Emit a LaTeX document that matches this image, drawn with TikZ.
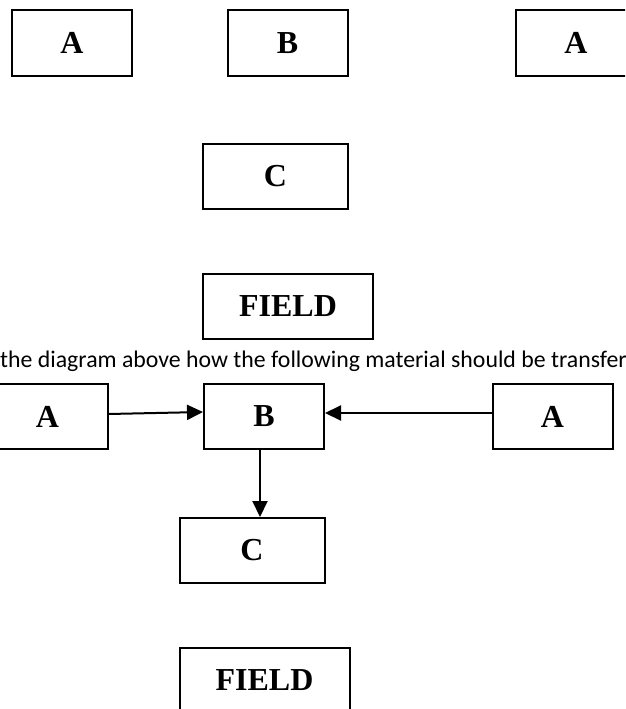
\documentclass[tikz,border=0pt]{standalone}
\usepackage{fontspec}
\setmainfont{Liberation Serif}
\newfontfamily\notefont{Carlito}
\usetikzlibrary{arrows.meta}

\tikzset{
  blk/.style={draw, line width=2pt, inner sep=0pt, minimum height=65pt,
    font=\fontsize{32}{36}\selectfont\bfseries},
  unit/.style={blk, minimum width=120pt},
  wide/.style={blk, minimum width=145pt},
  widest/.style={blk, minimum width=170pt},
  flow/.style={line width=2pt, -{Triangle[length=16pt,width=15pt]}},
  note/.style={font=\notefont\fontsize{23.8}{27}\selectfont, inner sep=0pt, anchor=base west}
}

\begin{document}
\begin{tikzpicture}[x=1pt, y=-1pt]
  \useasboundingbox (0,0) rectangle (625,709);
  \clip (0,0) rectangle (625,709);

  % first layout, without connectors
  \node[unit]   (a1) at (72,43)      {A};
  \node[unit]   (b1) at (287.5,43)   {B};
  \node[unit]   (a2) at (576,43)     {A};
  \node[wide]   (c1) at (275.5,176.5){C};
  \node[widest] (f1) at (288,306.5)  {FIELD};

  % question line
  \node[note] (q) at (0,367) {the diagram above how the following material should be transfer};

  % second layout, with the material flow
  \node[unit]   (a3) at (47.5,416.5) {A};
  \node[unit]   (b2) at (264,416.5)  {B};
  \node[unit]   (a4) at (552.5,416.5){A};
  \node[wide]   (c2) at (252,550.5)  {C};
  \node[widest] (f2) at (264.5,680.5){FIELD};

  \draw[flow] ([yshift=2.5pt]a3.east) -- ([yshift=4.5pt]b2.west);
  \draw[flow] ([yshift=3.5pt]a4.west) -- ([yshift=3.5pt]b2.east);
  \draw[flow] ([xshift=-4pt]b2.south) -- ([xshift=8pt]c2.north);
\end{tikzpicture}
\end{document}
